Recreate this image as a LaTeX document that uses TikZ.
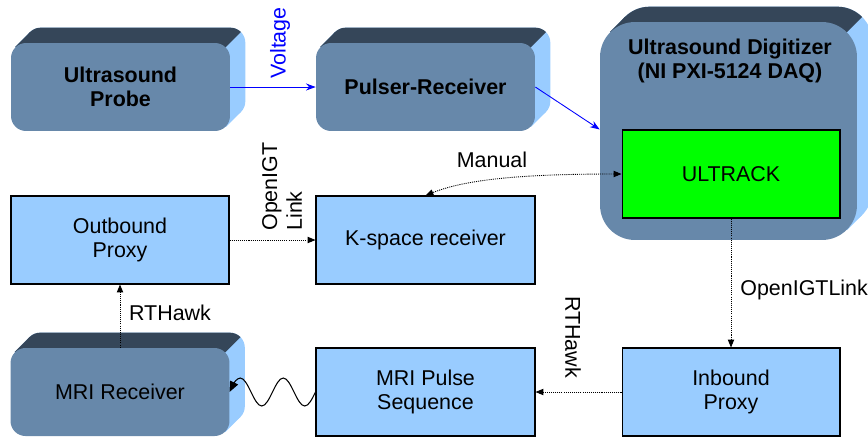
\documentclass[tikz,border=0pt]{standalone}
\usepackage{fontspec}
\setmainfont{Liberation Sans}
\usetikzlibrary{arrows.meta, positioning, backgrounds, calc}

\definecolor{slabfront}{HTML}{6788AA}
\definecolor{slabtop}{HTML}{354659}
\definecolor{slabside}{HTML}{99CCFF}
\definecolor{boxblue}{HTML}{99CCFF}
\definecolor{trackgreen}{HTML}{00FF00}

\newcommand{\diagfont}{\fontsize{12.2}{14}\selectfont}
\newcommand{\slabdepth}{0.3cm}

% turn a rounded face node into a slab: back copy, joining band, dark top
\newcommand{\slab}[2]{%
  \pgfmathsetlengthmacro{\slabcut}{#2*(1-sqrt(0.5))}%
  \begin{scope}[on background layer]
    \coordinate (#1-tl) at ([shift={(\slabcut,-\slabcut)}]#1.north west);
    \coordinate (#1-br) at ([shift={(-\slabcut,\slabcut)}]#1.south east);
    \coordinate (#1-tr) at ([shift={(-\slabcut,-\slabcut)}]#1.north east);
    \fill[slabside, rounded corners=#2] ([shift={(\slabdepth,\slabdepth)}]#1.south west) rectangle ([shift={(\slabdepth,\slabdepth)}]#1.north east);
    \fill[slabside] (#1-tl) -- ++(\slabdepth,\slabdepth) -- ($(#1-br)+(\slabdepth,\slabdepth)$) -- (#1-br) -- cycle;
    \begin{scope}
      \clip ($(#1-tr)+(3cm,3cm)$) -- ($(#1-tr)+(-12cm,-12cm)$) -- ($(#1-tr)+(-12cm,3cm)$) -- cycle;
      \fill[slabtop, rounded corners=#2] ([shift={(\slabdepth,\slabdepth)}]#1.south west) rectangle ([shift={(\slabdepth,\slabdepth)}]#1.north east);
      \fill[slabtop] (#1-tl) -- ++(\slabdepth,\slabdepth) -- ($(#1-br)+(\slabdepth,\slabdepth)$) -- (#1-br) -- cycle;
    \end{scope}
  \end{scope}}

\begin{document}
\begin{tikzpicture}[
    x=0.02cm, y=-0.02cm,
    >={Triangle[length=4.5pt, width=3.6pt]},
    font=\diagfont,
    face/.style={fill=slabfront, rounded corners=0.3cm, minimum width=4.38cm, minimum height=1.76cm, align=center, inner sep=0pt},
    plain/.style={fill=boxblue, draw=black, line width=0.6pt, minimum width=4.38cm, minimum height=1.76cm, align=center},
    wire/.style={line width=0.5pt, dash pattern=on 0.6pt off 0.6pt, ->},
    feed/.style={blue, line width=0.5pt, -{Stealth[length=5.5pt, width=4pt]}},
    wave/.style={line width=0.6pt, -{Triangle[length=6pt, width=5pt]}},
    lbl/.style={inner sep=0pt}
  ]
    \useasboundingbox (0,0) rectangle (868,437);

    % Ultrasound side
    \node[face, font=\diagfont\bfseries] (probe) at (120.5,87) {Ultrasound\\Probe};
    \slab{probe}{0.3cm}
    \node[face, font=\diagfont\bfseries] (pulser) at (425.5,87) {Pulser-Receiver};
    \slab{pulser}{0.3cm}
    \node[face, rounded corners=0.7cm, minimum width=5.14cm, minimum height=4.36cm] (dig) at (728.5,131) {};
    \slab{dig}{0.7cm}
    \node[lbl, font=\diagfont\bfseries, align=center] (digtitle) at (730,61) {Ultrasound Digitizer\\(NI PXI-5124 DAQ)};
    \node[plain, fill=trackgreen, minimum width=4.36cm] (ultrack) at (731,174) {ULTRACK};

    \draw[feed] (probe) -- (pulser);
    \node[lbl, blue, rotate=90] (voltlbl) at (280,43) {Voltage};
    \draw[feed] (pulser.east) -- (dig.west |- ultrack.north);

    % Scanner side
    \node[plain, minimum width=4.36cm] (outbound) at (120,240) {Outbound\\Proxy};
    \node[plain] (kspace) at (425.5,240) {K-space receiver};
    \node[face] (mrirx) at (120,392) {MRI Receiver};
    \slab{mrirx}{0.3cm}
    \node[plain] (mrips) at (425.5,392) {MRI Pulse\\Sequence};
    \node[plain, minimum width=4.36cm] (inbound) at (731,392) {Inbound\\Proxy};

    \draw[wire, <->] (ultrack.west) .. controls +(-100,0) and +(40,-16) .. (kspace.north);
    \node[lbl] (manuallbl) at (492,160) {Manual};
    \draw[wire] (outbound) -- (kspace);
    \node[lbl, rotate=90, anchor=west, align=left] (igtlbl) at (282,231) {OpenIGT\\Link};
    \draw[wire] (ultrack) -- (inbound);
    \node[lbl, anchor=west] (igtlbl2) at (740,290) {OpenIGTLink};
    \draw[wire] (inbound) -- (mrips);
    \node[lbl, rotate=-90] (hawklbl2) at (573,337) {RTHawk};
    \draw[wire] (mrirx) -- (outbound);
    \node[lbl] (hawklbl) at (170,313) {RTHawk};
    % RF link, two full waves into the receiver
    \draw[wave] (mrips.west) sin ++(-10.75,14) cos ++(-10.75,-14) sin ++(-10.75,-14) cos ++(-10.75,14)
      sin ++(-10.75,14) cos ++(-10.75,-14) sin ++(-10.75,-14) cos ++(-10.75,14);
\end{tikzpicture}
\end{document}
